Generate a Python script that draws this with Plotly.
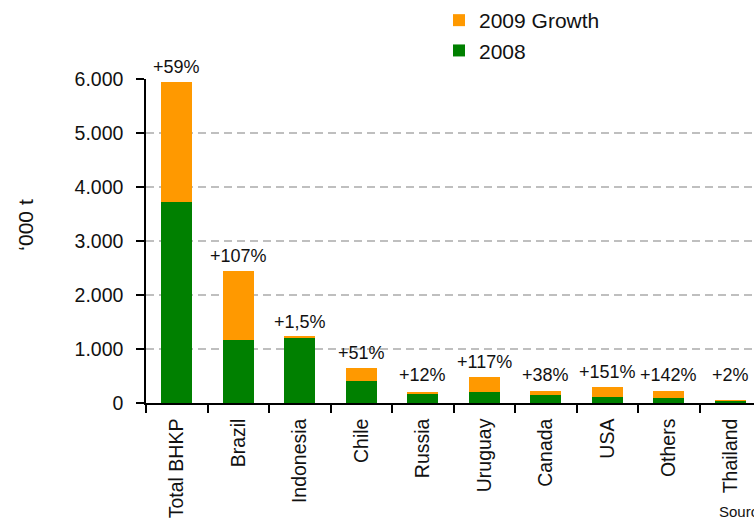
import plotly.graph_objects as go

categories = ["Total BHKP", "Brazil", "Indonesia", "Chile", "Russia", "Uruguay",
              "Canada", "USA", "Others", "Thailand"]
values_2008 = [3720, 1160, 1210, 410, 180, 195, 140, 120, 85, 45]
growth_2009 = [2230, 1280, 18, 230, 27, 295, 85, 180, 140, 1]
growth_labels = ["+59%", "+107%", "+1,5%", "+51%", "+12%", "+117%", "+38%", "+151%", "+142%", "+2%"]
y_ticks = [0, 1000, 2000, 3000, 4000, 5000, 6000]
y_tick_labels = ["0", "1.000", "2.000", "3.000", "4.000", "5.000", "6.000"]

FONT = "Liberation Sans, Arial, sans-serif"
GREEN = "#008000"
ORANGE = "#FF9900"
TXT = "#111111"

W, H = 754, 520
PL, PT, PB = 146, 76, 117
PW, PH = W - PL, H - PT - PB  # plot area size in px


def px_x(x):  # page x -> paper coord
    return (x - PL) / PW


def px_y(y):  # page y -> paper coord
    return (H - PB - y) / PH


fig = go.Figure()
fig.add_trace(go.Bar(x=categories, y=values_2008, name="2008",
                     marker=dict(color=GREEN, line=dict(width=0)), width=0.5))
fig.add_trace(go.Bar(x=categories, y=growth_2009, name="2009 Growth",
                     marker=dict(color=ORANGE, line=dict(width=0)), width=0.5))

totals = [a + b for a, b in zip(values_2008, growth_2009)]
for cat, tot, lab in zip(categories, totals, growth_labels):
    fig.add_annotation(x=cat, y=max(tot, 250), text=lab, showarrow=False,
                       yanchor="bottom", xanchor="center", yshift=3,
                       font=dict(family=FONT, size=18, color=TXT))

fig.add_annotation(x=px_x(717), y=px_y(512), xref="paper", yref="paper", text="Source:",
                   showarrow=False, xanchor="left", yanchor="middle",
                   font=dict(family=FONT, size=15, color=TXT))
fig.add_annotation(x=px_x(26), y=px_y(223), xref="paper", yref="paper", text="‘000 t",
                   showarrow=False, xanchor="center", yanchor="middle", textangle=-90,
                   font=dict(family=FONT, size=21, color=TXT))

fig.update_layout(
    width=W, height=H,
    margin=dict(l=PL, r=0, t=PT, b=PB, pad=0),
    barmode="stack",
    plot_bgcolor="white", paper_bgcolor="white",
    font=dict(family=FONT, size=19, color=TXT),
    showlegend=True,
    legend=dict(x=px_x(439), y=px_y(-4), xanchor="left", yanchor="top",
                font=dict(family=FONT, size=21, color=TXT),
                itemwidth=30, tracegroupgap=0, bgcolor="rgba(0,0,0,0)"),
)
fig.update_xaxes(
    range=[-0.5, PW / 61.5 - 0.5], showline=True, linecolor="black", linewidth=1.5,
    ticks="outside", ticklen=8, tickcolor="black", tickwidth=1.5,
    tickson="boundaries", tickangle=-90, showgrid=False, ticklabelstandoff=6,
    tickfont=dict(family=FONT, size=19.5, color=TXT),
)
fig.update_yaxes(
    range=[0, 6000], tickvals=y_ticks, ticktext=y_tick_labels,
    showline=True, linecolor="black", linewidth=1.5,
    ticks="outside", ticklen=8, tickcolor="black", tickwidth=1.5,
    showgrid=True, gridcolor="#BFBFBF", gridwidth=2, griddash="8px,5px",
    zeroline=False, ticklabelstandoff=9,
    tickfont=dict(family=FONT, size=19.5, color=TXT),
)

fig.write_html(
    "out.html",
    config={"displayModeBar": False},
    post_script="document.body.style.margin='0';"
                "document.body.style.overflow='hidden';"
                "document.documentElement.style.overflow='hidden';",
)
